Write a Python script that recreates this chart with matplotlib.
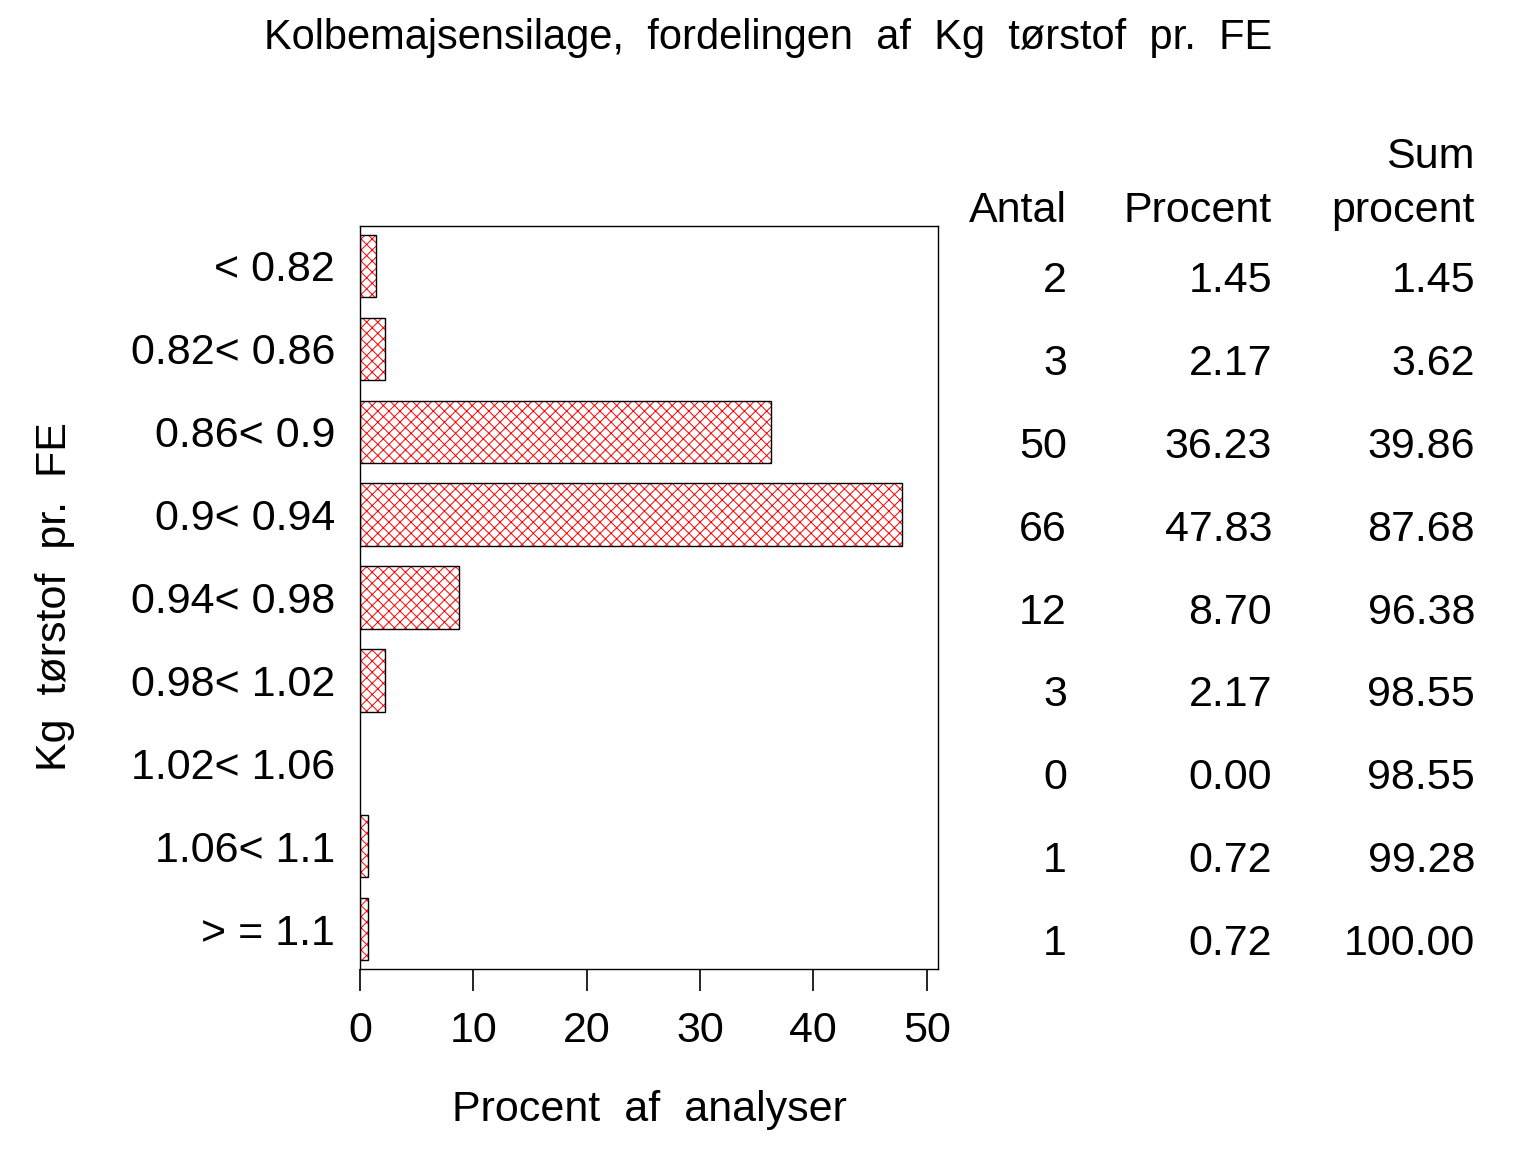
import matplotlib
matplotlib.use("Agg")
import matplotlib.pyplot as plt
from matplotlib.transforms import blended_transform_factory, offset_copy

plt.rcParams['font.family'] = ['Liberation Sans', 'DejaVu Sans']
plt.rcParams['hatch.linewidth'] = 0.7

categories = ["< 0.82", "0.82< 0.86", "0.86< 0.9", "0.9< 0.94", "0.94< 0.98",
              "0.98< 1.02", "1.02< 1.06", "1.06< 1.1", "> = 1.1"]
antal = ["2", "3", "50", "66", "12", "3", "0", "1", "1"]
procent_values = [1.45, 2.17, 36.23, 47.83, 8.70, 2.17, 0.00, 0.72, 0.72]
procent = ["1.45", "2.17", "36.23", "47.83", "8.70", "2.17", "0.00", "0.72", "0.72"]
sum_procent = ["1.45", "3.62", "39.86", "87.68", "96.38", "98.55", "98.55", "99.28", "100.00"]
xticks = [0, 10, 20, 30, 40, 50]

W, H = 1536, 1152
fig = plt.figure(figsize=(W / 100, H / 100), dpi=100)
ax = fig.add_axes([360 / W, 1 - 969 / H, (938 - 360) / W, (969 - 226) / H])

ypos = list(range(len(categories)))
bars_nonzero = [(y, v) for y, v in zip(ypos, procent_values) if v > 0]
ys = [b[0] for b in bars_nonzero]
vs = [b[1] for b in bars_nonzero]
ax.barh(ys, vs, height=0.75, color='white', edgecolor='red', hatch='xxx', linewidth=0)
ax.barh(ys, vs, height=0.75, fill=False, edgecolor='black', linewidth=1.0)

FS = 31
ax.set_xlim(0, 51)
ax.set_ylim(8.48, -0.48)
ax.set_yticks(ypos)
ax.set_yticklabels(categories, fontsize=FS)
ax.tick_params(axis='y', length=0, pad=18)
ax.set_xticks(xticks)
ax.set_xticklabels([str(t) for t in xticks], fontsize=FS)
ax.tick_params(axis='x', direction='out', length=16, width=1.2, pad=14)
for s in ax.spines.values():
    s.set_linewidth(1.0)

ax.set_xlabel("Procent  af  analyser", fontsize=FS, labelpad=28)
fig.text(55 / W, 1 - 597 / H, "Kg  tørstof  pr.  FE", rotation=90, fontsize=FS,
         ha='center', va='center')
fig.text(768 / W, 1 - 38 / H, "Kolbemajsensilage,  fordelingen  af  Kg  tørstof  pr.  FE",
         fontsize=30, ha='center', va='center')

tr = blended_transform_factory(fig.transFigure, ax.transData)
tr = offset_copy(tr, fig=fig, x=0, y=-15, units='dots')
cols = [(1067, antal), (1272, procent), (1475, sum_procent)]
for xpx, vals in cols:
    for y, v in zip(ypos, vals):
        fig.text(xpx / W, y, v, transform=tr, fontsize=FS, ha='right', va='center')

for xpx, yy, t in [(1067, 211, "Antal"), (1272, 211, "Procent"),
                   (1475, 157, "Sum"), (1475, 211, "procent")]:
    fig.text(xpx / W, 1 - yy / H, t, fontsize=FS, ha='right', va='center')

fig.savefig("out.png", dpi=100)
